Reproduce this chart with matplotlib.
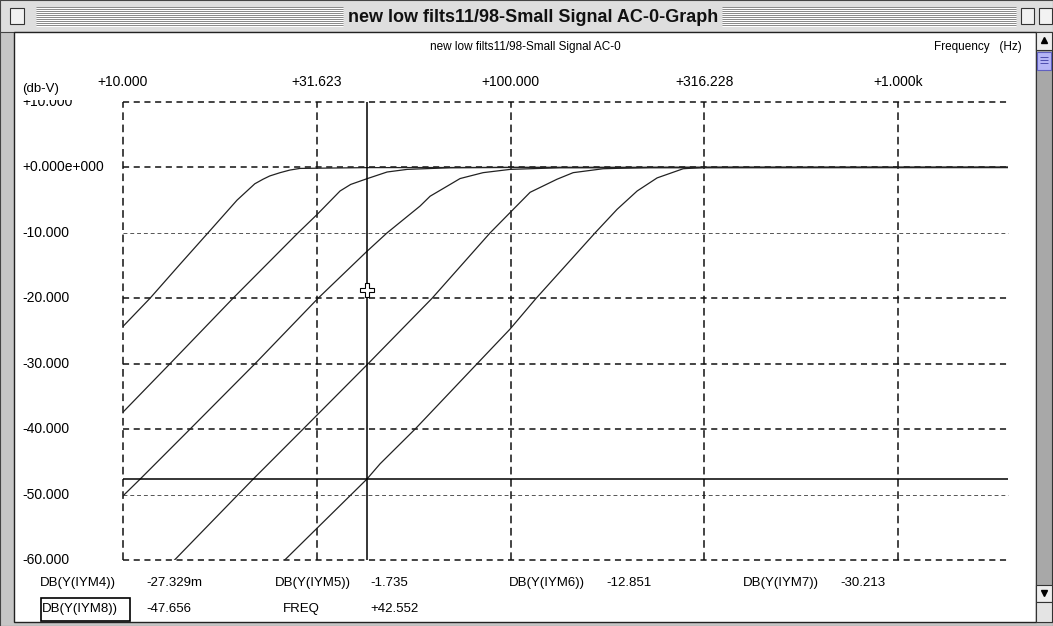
import numpy as np
import matplotlib
matplotlib.use("Agg")
import matplotlib.pyplot as plt
from matplotlib.patches import Rectangle

plt.rcParams['font.family'] = ['Liberation Sans', 'DejaVu Sans']

# --- traces (freq in Hz, level in dB-V) ---
f_iym4 = [10.0, 11.74, 14.03, 16.57, 19.69, 21.88, 22.98, 23.92, 25.43, 26.96, 28.62, 42.55, 100.0, 1920.0]
db_iym4 = [-24.3, -20.0, -14.8, -10.0, -5.0, -2.5, -1.8, -1.3, -0.8, -0.4, -0.15, -0.03, 0.0, 0.0]

f_iym5 = [10.0, 13.22, 19.22, 28.29, 31.67, 36.31, 38.67, 42.55, 48.01, 54.07, 69.82, 100.0, 1920.0]
db_iym5 = [-37.4, -30.0, -20.0, -10.0, -7.2, -3.6, -2.6, -1.735, -0.7, -0.3, -0.05, 0.0, 0.0]

f_iym6 = [10.0, 11.06, 14.89, 21.91, 31.86, 42.55, 48.01, 58.41, 61.99, 69.82, 74.07, 84.92, 99.7, 134.2, 1920.0]
db_iym6 = [-50.2, -47.66, -40.0, -30.0, -20.0, -12.85, -10.0, -5.9, -4.4, -2.6, -1.7, -0.8, -0.3, -0.05, 0.0]

f_iym7 = [13.38, 21.65, 29.14, 42.55, 62.72, 88.54, 99.7, 112.3, 131.8, 145.0, 173.3, 229.1, 1920.0]
db_iym7 = [-60.4, -47.66, -40.0, -30.21, -20.0, -10.0, -6.9, -3.8, -1.8, -0.8, -0.2, 0.0, 0.0]

f_iym8 = [25.73, 42.55, 46.05, 56.69, 81.95, 99.7, 116.4, 165.2, 188.3, 212.1, 238.8, 278.8, 316.2, 1920.0]
db_iym8 = [-60.4, -47.66, -45.3, -40.0, -30.0, -24.7, -20.0, -10.0, -6.4, -3.6, -1.6, -0.2, 0.0, 0.0]

traces = [(f_iym4, db_iym4), (f_iym5, db_iym5), (f_iym6, db_iym6), (f_iym7, db_iym7), (f_iym8, db_iym8)]

x_ticks = [10.0, 31.623, 100.0, 316.228, 1000.0]
x_tick_labels = ["+10.000", "+31.623", "+100.000", "+316.228", "+1.000k"]
y_ticks = [10, 0, -10, -20, -30, -40, -50, -60]
y_tick_labels = ["+10.000", "+0.000e+000", "-10.000", "-20.000", "-30.000", "-40.000", "-50.000", "-60.000"]
light_y = [-10, -50]

cursor_freq = 42.552
cursor_db = -47.656
pointer_db = -18.8

readout_names = ["DB(Y(IYM4))", "DB(Y(IYM5))", "DB(Y(IYM6))", "DB(Y(IYM7))", "DB(Y(IYM8))", "FREQ"]
readout_values = ["-27.329m", "-1.735", "-12.851", "-30.213", "-47.656", "+42.552"]

W, H = 1053, 626
fig = plt.figure(figsize=(W / 100, H / 100), dpi=100)

# window chrome, in pixel coordinates
bg = fig.add_axes([0, 0, 1, 1])
bg.set_xlim(0, W)
bg.set_ylim(H, 0)
bg.axis("off")
bg.add_patch(Rectangle((0, 0), W, H, facecolor="#c6c6c6", edgecolor="#444444", lw=0.8))
bg.add_patch(Rectangle((0, 0), W, 32, facecolor="#dedede", edgecolor="#444444", lw=0.8))
for yy in range(7, 27, 2):
    bg.hlines(yy, 36, 343, color="#8c8c8c", lw=0.72)
    bg.hlines(yy + 1, 36, 343, color="#ffffff", lw=0.72)
    bg.hlines(yy, 722, 1016, color="#8c8c8c", lw=0.72)
    bg.hlines(yy + 1, 722, 1016, color="#ffffff", lw=0.72)
bg.add_patch(Rectangle((10, 8), 14, 16, facecolor="#f2f2f2", edgecolor="#333333", lw=0.8))
bg.add_patch(Rectangle((1021, 8), 13, 16, facecolor="#f2f2f2", edgecolor="#333333", lw=0.8))
bg.add_patch(Rectangle((1039, 8), 13, 16, facecolor="#f2f2f2", edgecolor="#333333", lw=0.8))
bg.text(533, 17, "new low filts11/98-Small Signal AC-0-Graph", ha="center", va="center",
        fontsize=13, fontweight="bold", color="#111111")

# content area
bg.add_patch(Rectangle((14, 32), 1022, 590, facecolor="white", edgecolor="#222222", lw=1.0))
# scroll bar
bg.add_patch(Rectangle((1036, 32), 16, 590, facecolor="#a8a8a8", edgecolor="#333333", lw=0.8))
bg.add_patch(Rectangle((1036, 32), 16, 18, facecolor="#eeeeee", edgecolor="#333333", lw=0.8))
bg.plot([1044], [40], marker="^", color="black", ms=5)
bg.add_patch(Rectangle((1037, 52), 14, 18, facecolor="#b6b6f6", edgecolor="#6060c0", lw=0.8))
for yy in (57, 60, 63):
    bg.hlines(yy, 1040, 1048, color="#5050b0", lw=0.72)
bg.add_patch(Rectangle((1036, 585), 16, 17, facecolor="#eeeeee", edgecolor="#333333", lw=0.8))
bg.plot([1044], [593], marker="v", color="black", ms=5)
bg.add_patch(Rectangle((1036, 602), 16, 20, facecolor="#e4e4e4", edgecolor="#333333", lw=0.8))

# header texts
bg.text(525, 47, "new low filts11/98-Small Signal AC-0", ha="center", va="center", fontsize=8.5)
bg.text(1022, 47, "Frequency   (Hz)", ha="right", va="center", fontsize=8.5)
bg.text(22, 89, "(db-V)", ha="left", va="center", fontsize=9.5)

# plot area
ax = fig.add_axes([123 / W, 1 - 560 / H, (1008 - 123) / W, (560 - 102) / H])
ax.set_xscale("log")
ax.set_xlim(10, 1920)
ax.set_ylim(-60, 10)
ax.axis("off")
ax.patch.set_alpha(0)

for yv in y_ticks:
    if yv in light_y:
        ax.axhline(yv, color="#555555", lw=0.7, ls=(0, (4, 3)), clip_on=False)
    else:
        ax.axhline(yv, color="#111111", lw=1.1, ls=(0, (4, 3)), clip_on=False)
for xv in x_ticks:
    ax.axvline(xv, color="#111111", lw=1.1, ls=(0, (5, 3)), clip_on=False)

for f, db in traces:
    ax.plot(f, db, color="#222222", lw=0.9)

# cursor
ax.axvline(cursor_freq, color="black", lw=1.1)
ax.axhline(cursor_db, color="black", lw=1.1)
ax.plot([cursor_freq], [pointer_db], marker="P", ms=10, mfc="white", mec="black", mew=0.8)

xt = ax.get_xaxis_transform()
for xv, lab in zip(x_ticks, x_tick_labels):
    ax.text(xv, 1.0437, lab, transform=xt, ha="center", va="center", fontsize=10, clip_on=False)
yt = ax.get_yaxis_transform()
for yv, lab in zip(y_ticks, y_tick_labels):
    ax.text(-0.1141, yv, lab, transform=yt, ha="left", va="center", fontsize=10, clip_on=False)
# top label is partly hidden under the unit label
ax.add_patch(Rectangle((18, 95), 80, 5, transform=bg.transData, facecolor="white",
                       edgecolor="none", clip_on=False, zorder=5))

# readouts under the graph
name_x = [40, 275, 509, 743, 42, 283]
value_x = [146, 370, 606, 840, 146, 370]
rows = [583] * 4 + [609] * 2
for nm, val, nx, vx, ry in zip(readout_names, readout_values, name_x, value_x, rows):
    bg.text(nx, ry, nm, ha="left", va="center", fontsize=9.5)
    bg.text(vx, ry, val, ha="left", va="center", fontsize=9.5)
bg.add_patch(Rectangle((41, 598), 89, 23, facecolor="none", edgecolor="black", lw=1.2))

fig.savefig("out.png", dpi=100)
